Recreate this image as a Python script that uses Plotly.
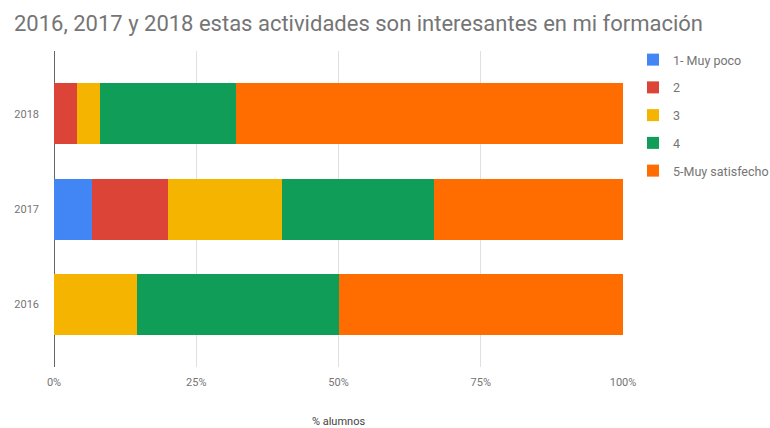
import plotly.graph_objects as go

categories = ["2016", "2017", "2018"]
series_names = ["1- Muy poco", "2", "3", "4", "5-Muy satisfecho"]
values_1 = [0.0, 6.7, 0.0]
values_2 = [0.0, 13.3, 4.0]
values_3 = [14.6, 20.0, 4.0]
values_4 = [35.4, 26.7, 24.0]
values_5 = [50.0, 33.3, 68.0]
colors = ["#4285F4", "#DB4437", "#F4B400", "#0F9D58", "#FF6D00"]
tick_vals = [0, 25, 50, 75, 100]
tick_text = ["0%", "25%", "50%", "75%", "100%"]

all_values = [values_1, values_2, values_3, values_4, values_5]

fig = go.Figure()
for i, (name, vals, col) in enumerate(zip(series_names, all_values, colors)):
    fig.add_trace(go.Bar(
        y=categories, x=vals, name=name, orientation="h",
        marker=dict(color=col, line=dict(width=0)),
        legendgroup=f"g{i}", hoverinfo="x+name",
    ))

fig.update_layout(
    barmode="stack",
    bargap=0.36,
    width=770, height=428,
    margin=dict(l=54, r=147, t=51, b=61, autoexpand=False),
    paper_bgcolor="white", plot_bgcolor="white",
    font=dict(family="Roboto", color="#757575", size=11),
    title=dict(
        text="2016, 2017 y 2018 estas actividades son interesantes en mi formación",
        x=14 / 770, xanchor="left", xref="container",
        y=1 - 23 / 428, yanchor="middle", yref="container",
        font=dict(family="Roboto", size=22, color="#757575"),
    ),
    legend=dict(
        x=633 / 770, xref="container", xanchor="left",
        y=1 - 45 / 428, yref="container", yanchor="top",
        traceorder="grouped", tracegroupgap=8.5,
        font=dict(size=12.5, color="#757575"),
        itemwidth=30,
    ),
    showlegend=True,
)

fig.update_xaxes(
    range=[0, 100], tickvals=tick_vals, ticktext=tick_text,
    showgrid=True, gridcolor="#e0e0e0", gridwidth=1,
    zeroline=True, zerolinecolor="#666666", zerolinewidth=1,
    showline=False, ticks="",
    ticklabelstandoff=7,
    tickfont=dict(size=11, color="#757575"),
    title=dict(text="% alumnos", font=dict(size=11, color="#444444"), standoff=32),
    fixedrange=True,
)
fig.update_yaxes(
    type="category", categoryorder="array", categoryarray=categories,
    range=[-0.656, 2.661],
    showgrid=False, zeroline=False, showline=False, ticks="",
    ticklabelstandoff=14,
    tickfont=dict(size=11, color="#757575"),
    fixedrange=True,
)

fig.write_html("out.html")
